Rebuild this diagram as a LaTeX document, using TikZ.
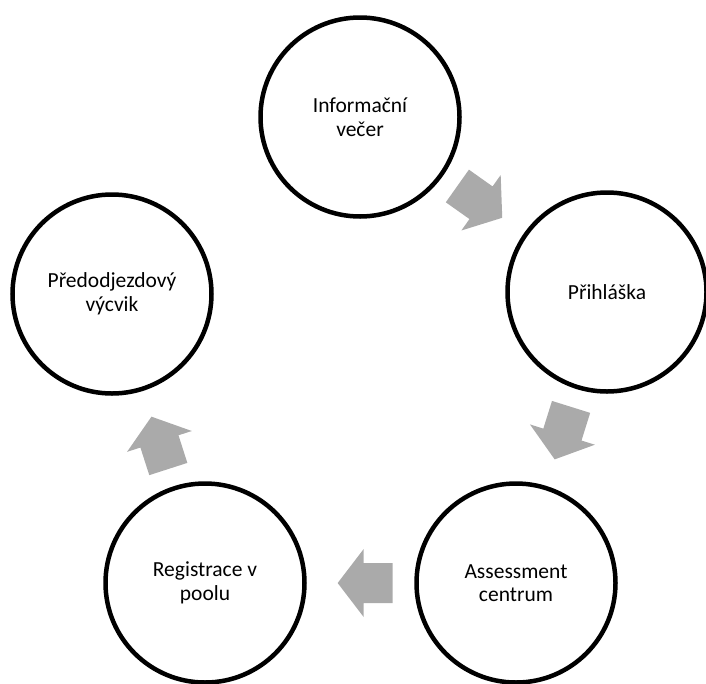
\documentclass[tikz,border=0pt]{standalone}
\usepackage{fontspec}
\setmainfont{Carlito}
\usetikzlibrary{calc}
\definecolor{arrowgray}{RGB}{170,170,170}
\tikzset{
  stage/.style={circle,draw=black,line width=4.5pt,minimum size=199pt,inner sep=0pt,
    align=center,font=\fontsize{21.5pt}{23.5pt}\selectfont},
  cyclearrow/.pic={\fill[arrowgray] (-27.5pt,-20pt) -- (1.5pt,-20pt) -- (1.5pt,-34pt)
     -- (27.5pt,0pt) -- (1.5pt,34pt) -- (1.5pt,20pt) -- (-27.5pt,20pt) -- cycle;}
}
\begin{document}
\begin{tikzpicture}[x=1pt,y=-1pt]
\useasboundingbox (0,0) rectangle (706,683);
\clip (0,0) rectangle (706,683);
\node[stage] (info) at (360,117) {Informační\\večer};
\node[stage] (prihl) at (607,292) {Přihláška};
\node[stage] (assess) at (516,583) {Assessment\\centrum};
\node[stage] (reg) at (205,583) {Registrace v\\poolu};
\node[stage] (pred) at (112,294) {Předodjezdový\\výcvik};
\foreach \a/\b in {info/prihl, prihl/assess, assess/reg, reg/pred}
  \path let \p1=($(\b)-(\a)$), \n1={atan2(\y1,\x1)} in
    ($(\a)!0.485!(\b)$) pic[rotate=\n1]{cyclearrow};
\end{tikzpicture}
\end{document}
